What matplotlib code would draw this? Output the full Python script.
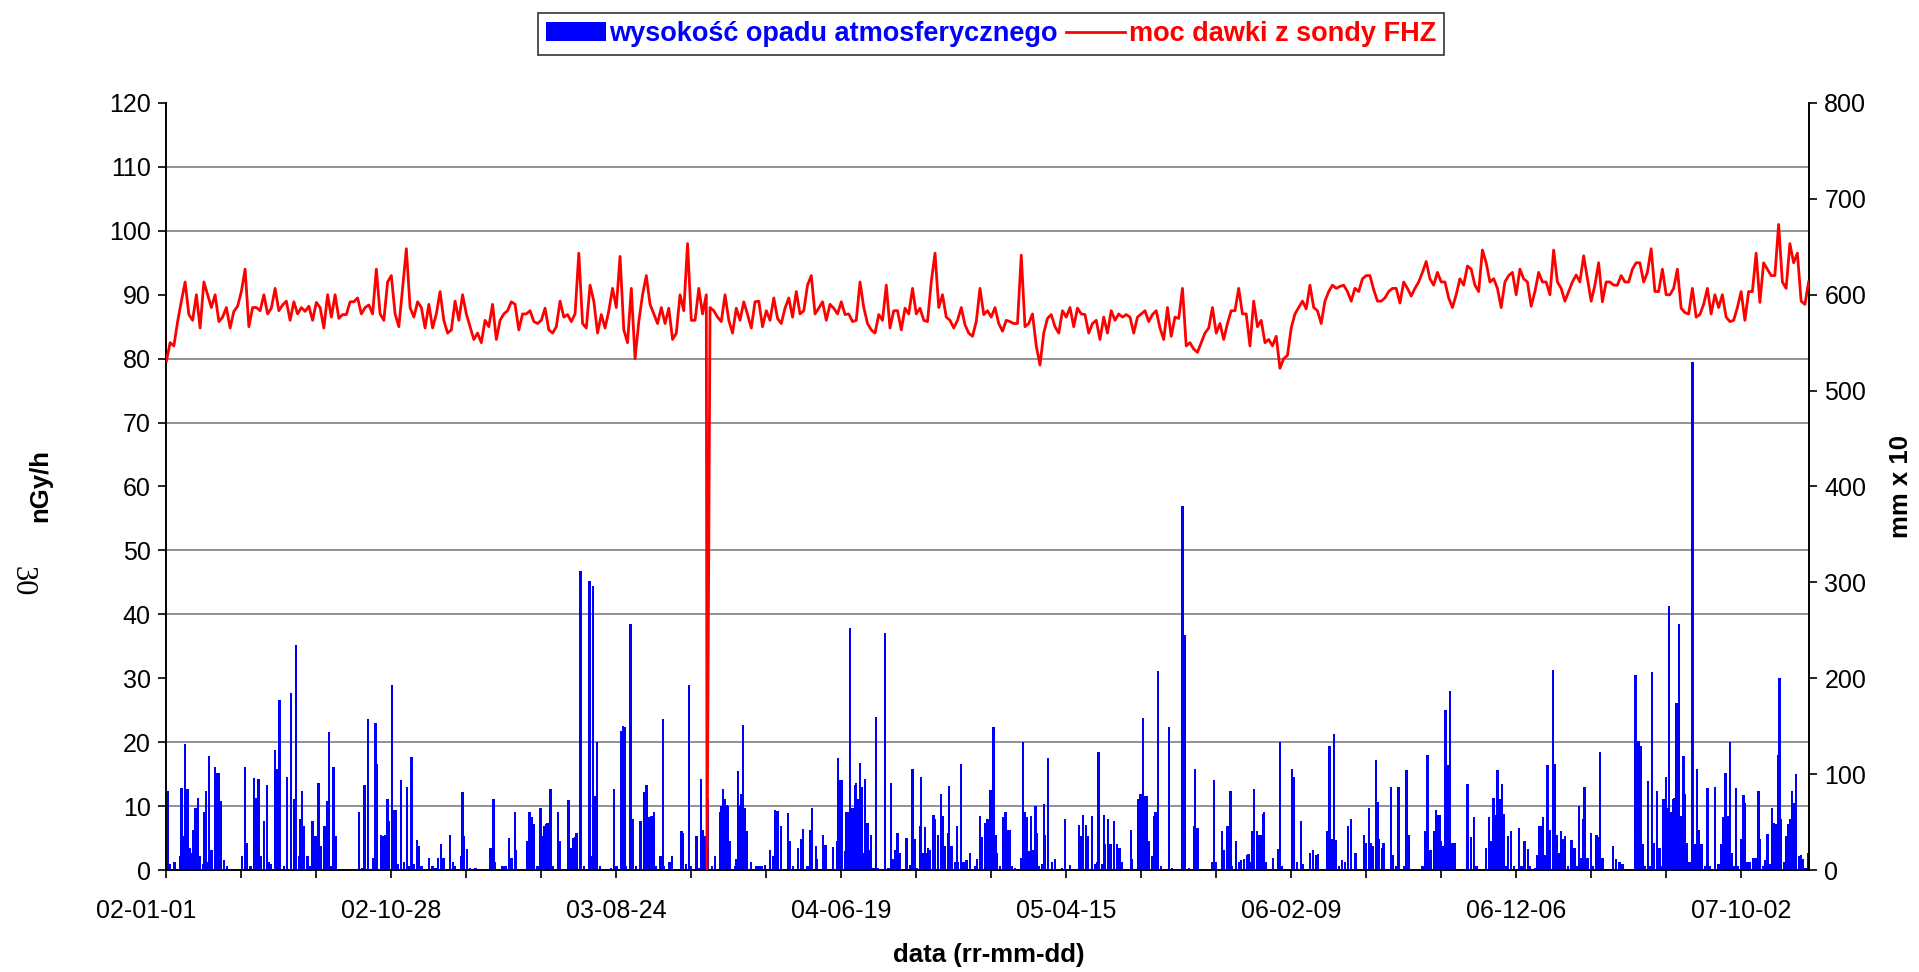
import numpy as np
import matplotlib
matplotlib.use("Agg")
import matplotlib.pyplot as plt
import matplotlib.transforms as mtransforms
from matplotlib.patches import Patch
from matplotlib.lines import Line2D
from matplotlib.ticker import FixedLocator, MultipleLocator

plt.rcParams['font.family'] = ['Liberation Sans', 'DejaVu Sans']

# ---------------- data ----------------
# dose rate (nGy/h) read every 5 days from 2002-01-01 (day 0) to day 2190
dose_step_days = 5
dose_part1 = [79.6, 82.5, 82.0, 85.8, 89.0, 92.0, 86.9, 86.0, 90.0, 84.8,
              92.0, 90.0, 88.0, 90.0, 85.8, 86.5, 88.0, 84.8, 87.4, 88.2,
              90.5, 94.0, 85.0, 88.0, 88.0, 87.5, 90.0, 87.0, 87.9, 91.0,
              87.5, 88.4, 89.0, 86.0, 88.9, 87.0, 88.0, 87.4, 88.2, 86.0,
              88.8, 88.0, 84.8, 90.0, 86.5, 90.0, 86.3, 86.9, 86.9, 88.9,
              88.9, 89.5, 87.0, 88.0, 88.4, 87.0, 94.0, 87.0, 86.0, 92.0,
              93.0, 87.0, 85.0, 91.0, 97.2, 88.0, 86.5, 88.9, 88.0, 84.8,
              88.5, 84.8, 87.0, 90.5]
dose_part2 = [86.0, 84.0, 84.5, 89.0, 86.0, 90.0, 87.0, 85.0, 83.0, 84.0,
              82.5, 86.0, 85.0, 88.5, 83.0, 86.0, 87.0, 87.5, 88.9, 88.5,
              84.5, 87.0, 87.0, 87.5, 85.8, 85.5, 86.0, 87.9, 84.5, 84.0,
              85.0, 89.0, 86.5, 86.9, 85.8, 87.0, 96.5, 85.5, 84.8, 91.5,
              89.0, 84.0, 86.9, 84.8, 87.5, 91.0, 88.0, 96.0, 84.5, 82.5,
              91.0, 80.0, 85.8, 90.0, 93.0, 88.5, 87.0, 85.5, 88.0, 85.5,
              87.9, 83.0, 84.0, 90.0, 87.5, 98.0, 86.0, 86.0, 91.0, 87.0,
              90.0, 88.0, 87.5, 86.5]
dose_part3 = [85.8, 90.0, 86.0, 84.0, 87.9, 86.0, 88.9, 86.9, 84.8, 88.9,
              89.0, 85.0, 87.5, 86.0, 89.5, 86.3, 85.5, 87.9, 89.5, 86.5,
              90.5, 87.0, 87.5, 91.5, 93.0, 87.0, 87.9, 88.9, 86.0, 88.5,
              87.9, 87.0, 88.9, 86.9, 87.0, 85.8, 86.0, 92.0, 88.0, 85.5,
              84.5, 84.0, 86.9, 86.0, 91.5, 84.8, 87.5, 87.5, 84.5, 87.9,
              87.0, 91.0, 87.0, 87.9, 86.0, 85.8, 92.0, 96.5, 88.0, 90.0,
              86.5, 86.0, 84.8, 86.0, 88.0, 85.3, 84.0, 83.5, 85.8, 91.0,
              86.9, 87.5, 86.5, 88.0, 85.5]
dose_part4 = [84.3, 86.0, 85.8, 85.5, 85.5, 96.2, 85.0, 85.5, 87.0, 82.0,
              79.0, 84.0, 86.3, 86.9, 85.0, 84.0, 87.5, 86.5, 88.0, 85.0,
              87.9, 87.0, 86.9, 84.0, 85.5, 86.0, 83.0, 86.5, 84.0, 87.5,
              86.0, 87.0, 86.5, 86.9, 86.5, 84.0, 86.5, 87.0, 87.5, 85.8,
              86.9, 87.5, 84.8, 83.0, 88.0, 83.5, 86.5, 86.3, 91.0, 82.0,
              82.5, 81.5, 81.0, 82.5, 84.0, 84.8, 88.0, 84.0, 85.5, 83.0,
              85.5, 87.5, 87.5, 91.0, 87.0, 87.0, 82.0, 89.0, 85.0, 86.0,
              82.5, 83.0, 82.0, 83.5, 78.5]
dose_part5 = [80.0, 80.5, 84.8, 87.0, 88.0, 89.0, 87.8, 91.5, 88.0, 87.5,
              85.5, 89.0, 90.5, 91.5, 91.0, 91.3, 91.5, 90.5, 89.0, 91.0,
              90.5, 92.5, 93.0, 93.0, 90.8, 89.0, 89.0, 89.5, 90.5, 91.0,
              91.0, 88.7, 92.0, 91.0, 89.8, 91.0, 92.0, 93.5, 95.2, 92.5,
              91.5, 93.5, 92.0, 92.0, 89.5, 88.0, 90.0, 92.5, 91.5, 94.5,
              94.0, 91.5, 90.5, 97.0, 95.0, 92.0, 92.5, 91.0, 88.0, 92.0,
              93.0, 93.5, 90.0, 94.0, 92.5, 92.0, 88.2, 90.5, 93.5, 92.0,
              92.0, 90.0, 97.0, 92.0, 91.0]
dose_part6 = [89.0, 90.5, 92.0, 93.1, 92.0, 96.1, 92.5, 89.0, 91.5, 95.0,
              88.9, 92.0, 92.0, 91.5, 91.5, 93.0, 92.0, 92.0, 94.0, 95.0,
              95.0, 92.0, 93.5, 97.2, 90.5, 90.5, 94.0, 90.0, 90.0, 91.0,
              94.0, 87.9, 87.2, 87.0, 91.0, 86.5, 86.9, 88.5, 91.0, 87.0,
              90.0, 88.0, 90.0, 86.5, 85.8, 86.0, 88.0, 90.5, 86.0, 90.5,
              90.5, 96.5, 88.8, 95.0, 94.0, 93.0, 93.0, 101.0, 92.0, 91.0,
              98.0, 95.0, 96.5, 89.0, 88.5, 92.0]
# single-day probe dropout
dropout_days = [721]
dropout_vals = [0.0]

# precipitation (mm x 10), day index from 2002-01-01
rain_day_1 = [2, 5, 11, 18, 20, 22, 25, 28, 31, 34, 36, 39, 42, 44, 49, 51, 53, 55, 57, 60,
              65, 68, 70, 72, 77, 81, 101, 105, 107, 112, 117, 119, 121, 123, 126, 130, 134,
              137, 139, 145, 147, 151, 157, 161, 166, 170, 173, 177, 179, 181, 183, 188, 192,
              195, 199, 201, 203, 206, 211, 215, 217, 220, 223, 226, 257, 261, 264, 269, 276,
              279, 281, 286, 289, 292, 295, 297, 301, 304, 306, 308, 313, 317, 321, 324, 327,
              330, 334, 337, 340, 350, 355, 359, 362]
rain_val_1 = [82, 6, 8, 15, 86, 35, 131, 85, 23, 18, 42, 65, 75, 15, 6, 60, 82, 8, 119, 21,
              107, 101, 101, 72, 10, 4, 15, 107, 28, 4, 96, 75, 55, 95, 15, 51, 89,
              8, 6, 125, 105, 177, 4, 97, 185, 74, 235, 15, 53, 82, 46, 15, 4,
              51, 35, 27, 91, 25, 46, 72, 144, 4, 107, 35, 60, 2, 89, 158, 13,
              153, 111, 36, 35, 37, 74, 51, 193, 63, 63, 6, 94, 8, 87, 4, 118,
              6, 31, 25, 4, 13, 4, 2, 13]
rain_day_2 = [366, 368, 370, 378, 382, 384, 393, 395, 397, 401, 405, 412, 426, 432, 434, 436,
              438, 448, 452, 457, 460, 465, 466, 481, 484, 487, 490, 495, 499, 501, 504, 506,
              508, 512, 515, 522, 525, 530, 536, 539, 541, 543, 545, 547, 552, 557, 564, 567,
              569, 572, 574, 578, 593, 597, 600, 606, 609, 611, 613, 619, 622, 626, 632, 637,
              640, 643, 647, 650, 652, 659, 662, 664, 671, 674, 687, 689, 693, 697, 700, 707,
              711, 713, 716, 719, 722, 728, 732, 738]
rain_val_2 = [27, 13, 13, 36, 8, 4, 15, 81, 35, 22, 2, 2, 1, 23, 8, 74,
              8, 4, 4, 33, 13, 60, 21, 30, 60, 55, 48, 4, 65, 35, 46, 48,
              49, 84, 4, 60, 30, 1, 73, 23, 20, 33, 34, 39, 312, 4, 301, 15,
              296, 77, 133, 4, 2, 85, 4, 145, 150, 149, 4, 257, 53, 4, 51, 81,
              89, 55, 56, 60, 4, 15, 157, 4, 8, 15, 41, 39, 6, 193, 4, 35,
              2, 95, 42, 35, 74, 4, 15, 61]
rain_day_3 = [740, 742, 745, 747, 749, 751, 758, 760, 762, 765, 767, 769, 771, 774, 780, 787,
              791, 794, 798, 805, 809, 812, 815, 820, 829, 831, 836, 842, 846, 849, 855, 859,
              861, 866, 868, 876, 879, 889, 894, 896, 898, 901, 905, 907, 909, 912, 914, 916,
              918, 920, 923, 925, 927, 929, 932, 935, 937, 940, 943, 946, 949, 958, 963, 966,
              969, 972, 975, 978, 987, 992, 995, 998, 1001, 1005, 1006, 1009, 1012, 1014, 1016,
              1018, 1023, 1025, 1029, 1033, 1035, 1038, 1042, 1044, 1047, 1052, 1054, 1056,
              1060, 1063, 1067, 1072, 1078, 1081, 1085, 1087, 1092, 1095, 1099, 1101, 1103,
              1106, 1108, 1112]
rain_val_3 = [67, 84, 74, 68, 67, 30, 4, 11, 103, 68, 79, 151, 65, 41, 8, 4,
              4, 4, 5, 21, 15, 63, 62, 46, 59, 30, 4, 23, 32, 43, 4, 42,
              65, 25, 11, 37, 26, 24, 30, 117, 94, 94, 20, 61, 61, 252, 65, 65,
              89, 91, 74, 112, 87, 18, 95, 49, 21, 37, 2, 160, 2, 247, 2, 91,
              11, 21, 39, 18, 33, 5, 105, 32, 2, 46, 97, 18, 45, 18, 23,
              21, 57, 53, 37, 79, 56, 25, 39, 88, 25, 8, 46, 8,
              111, 8, 10, 18, 4, 11, 56, 34, 49, 53, 83, 83, 149,
              37, 18, 4]
rain_day_4 = [1116, 1119, 1121, 1123, 1125, 1128, 1132, 1140, 1142, 1145, 1148, 1150, 1153,
              1156, 1159, 1161, 1164, 1168, 1170, 1172, 1176, 1181, 1185, 1194, 1198, 1205,
              1217, 1220, 1222, 1226, 1229, 1234, 1239, 1241, 1243, 1248, 1250, 1252, 1256,
              1259, 1264, 1268, 1270, 1272, 1274, 1286, 1288, 1296, 1299, 1302, 1303, 1307,
              1310, 1314, 1317, 1319, 1322, 1326, 1337, 1341, 1355, 1358, 1364, 1370, 1372,
              1375, 1395, 1397, 1399, 1408, 1410, 1415, 1417, 1419, 1421, 1426, 1430, 1433,
              1437, 1441, 1443, 1446, 1448, 1450, 1454, 1457, 1459, 1462, 1464, 1466, 1476,
              1482, 1485, 1488]
rain_val_4 = [55, 60, 42, 42, 42, 4, 2, 13, 133, 60, 55, 20, 56,
              21, 67, 39, 4, 6, 69, 37, 117, 8, 11, 2, 53, 5,
              47, 35, 57, 47, 35, 56, 6, 8, 123, 6, 57, 27, 53,
              27, 51, 27, 23, 23, 8, 42, 11, 74, 79, 159, 77, 77,
              30, 15, 56, 61, 208, 4, 149, 2, 380, 245, 2, 46, 105,
              44, 8, 94, 8, 41, 21, 46, 46, 82, 4, 30, 8, 10,
              11, 16, 17, 8, 41, 85, 41, 37, 36, 58, 60, 8, 13,
              22, 134, 4]
rain_day_5 = [1501, 1504, 1508, 1513, 1515, 1525, 1529, 1533, 1536, 1548, 1551, 1554, 1557,
              1560, 1564, 1568, 1572, 1576, 1580, 1586, 1597, 1600, 1604, 1606, 1609, 1613,
              1615, 1617, 1621, 1623, 1633, 1636, 1640, 1643, 1651, 1654, 1657, 1675, 1679,
              1682, 1686, 1691, 1693, 1695, 1698, 1700, 1703, 1706, 1709, 1712, 1715, 1718,
              1735, 1740, 1744, 1747, 1760, 1764, 1767, 1770, 1772, 1775, 1778, 1781, 1784,
              1787, 1789, 1793, 1797, 1804, 1807, 1811, 1816, 1818, 1825, 1828, 1831, 1834,
              1836, 1838, 1842, 1845, 1849, 1851, 1854, 1857, 1860]
rain_val_5 = [105, 97, 8, 51, 6, 18, 21, 16, 17, 41, 129, 32, 142,
              31, 4, 10, 8, 46, 53, 18, 36, 28, 65, 28, 25, 115,
              71, 32, 23, 28, 87, 16, 4, 87, 4, 104, 36, 4, 41,
              120, 21, 41, 63, 57, 57, 30, 25, 167, 109, 187, 28, 28,
              90, 34, 55, 4, 23, 55, 30, 75, 57, 104, 74, 90, 58,
              4, 35, 41, 4, 44, 4, 30, 22, 4, 2, 16, 46, 46,
              55, 16, 110, 42, 209, 111, 37, 18, 41]
rain_day_6 = [1862, 1865, 1869, 1874, 1878, 1881, 1884, 1887, 1889, 1891, 1893, 1896, 1900,
              1902, 1907, 1909, 1912, 1915, 1929, 1933, 1938, 1942, 1959, 1963, 1966, 1969,
              1971, 1976, 1979, 1981, 1984, 1988, 1991, 1994, 1996, 1998, 2000, 2001, 2004,
              2007, 2009, 2011, 2014, 2016, 2017, 2020, 2023, 2025, 2027, 2031, 2035, 2038,
              2041, 2044, 2047, 2052, 2055, 2058, 2065, 2070, 2074, 2076, 2079, 2082, 2085,
              2087, 2090, 2093, 2096, 2100, 2103, 2105, 2107, 2111, 2116, 2119, 2123, 2125,
              2130, 2132, 2135, 2139, 2141, 2144, 2147, 2149, 2151, 2153, 2157, 2160, 2163,
              2166, 2168, 2171, 2173, 2177, 2180, 2182, 2186, 2189]
rain_val_6 = [32, 35, 4, 31, 23, 4, 67, 13, 53, 87, 13, 13, 39,
              4, 37, 34, 123, 13, 25, 11, 8, 6, 203, 135, 129, 27,
              4, 93, 4, 207, 28, 82, 23, 4, 74, 74, 97, 65, 275,
              60, 74, 75, 174, 60, 257, 56, 119, 79, 28, 8, 530, 27,
              105, 42, 27, 4, 86, 4, 87, 6, 27, 55, 101, 56, 133,
              18, 4, 86, 4, 32, 78, 70, 8, 8, 13, 13, 82, 32,
              4, 10, 38, 6, 65, 49, 48, 120, 200, 53, 8, 35, 48,
              53, 82, 70, 100, 15, 16, 11, 2, 18]

n_days = 2191
tick_days = [0, 300, 600, 900, 1200, 1500, 1800, 2100]
tick_labels = ['02-01-01', '02-10-28', '03-08-24', '04-06-19',
               '05-04-15', '06-02-09', '06-12-06', '07-10-02']

series_rain = 'wysokość opadu atmosferycznego'
series_dose = 'moc dawki z sondy FHZ'

# ---------------- assemble ----------------
dose_vals = np.array(dose_part1 + dose_part2 + dose_part3 + dose_part4 + dose_part5 + dose_part6)
dose_days = np.arange(len(dose_vals)) * dose_step_days
dose_days = np.concatenate([dose_days, dropout_days])
dose_vals = np.concatenate([dose_vals, dropout_vals])
order = np.argsort(dose_days, kind='stable')
dose_days, dose_vals = dose_days[order], dose_vals[order]

rain_day = np.array(rain_day_1 + rain_day_2 + rain_day_3 + rain_day_4 + rain_day_5 + rain_day_6)
rain_val = np.array(rain_val_1 + rain_val_2 + rain_val_3 + rain_val_4 + rain_val_5 + rain_val_6)

# ---------------- figure ----------------
W, H = 1919, 972
fig = plt.figure(figsize=(W / 100, H / 100), dpi=100)
fig.patch.set_facecolor('white')
ax = fig.add_axes([166 / W, 1 - 870 / H, (1809 - 166) / W, (870 - 103) / H])
ax2 = ax.twinx()

grid_c = '#7f7f7f'
# bars on the secondary (right) axis
ax2.bar(rain_day + 0.5, rain_val, width=3.2, color='#0000FF', linewidth=0, zorder=2)
ax2.set_ylim(0, 800)
ax2.yaxis.set_major_locator(MultipleLocator(100))
ax2.yaxis.set_minor_locator(FixedLocator(np.linspace(0, 800, 13)))
ax2.grid(which='minor', axis='y', color=grid_c, linewidth=1.2, zorder=0)
ax2.set_axisbelow(True)

# line on the primary (left) axis, drawn above the bars
ax.plot(dose_days + 0.5, dose_vals, color='#FF0000', linewidth=2.0, zorder=3)
ax.set_ylim(0, 120)
ax.yaxis.set_major_locator(MultipleLocator(10))
ax.set_xlim(0, n_days)
ax.set_xticks(tick_days)
ax.set_xticklabels(tick_labels)
ax.xaxis.set_minor_locator(MultipleLocator(100))
ax.set_zorder(ax2.get_zorder() + 1)
ax.patch.set_visible(False)

fs_tick = 18
fs_bold = 18.5
for a in (ax, ax2):
    a.spines['top'].set_visible(False)
    for s in ('left', 'right', 'bottom'):
        a.spines[s].set_color('black')
        a.spines[s].set_linewidth(1.2)
ax.tick_params(axis='y', which='major', direction='out', length=6, width=1.2,
               labelsize=fs_tick, pad=5, colors='black')
ax.tick_params(axis='x', which='both', direction='out', length=6, width=1.2,
               labelsize=fs_tick, pad=15, colors='black')
ax2.tick_params(axis='y', which='major', direction='out', length=6, width=1.2,
                labelsize=fs_tick, pad=5)
ax2.tick_params(axis='y', which='minor', length=0)

# the first date label sits a little to the left of its tick, as in the original
first_lbl = ax.get_xticklabels()[0]
first_lbl.set_transform(first_lbl.get_transform() +
                        mtransforms.ScaledTranslation(-20 / 100, 0, fig.dpi_scale_trans))

# axis titles
fig.text(40 / W, 1 - 486 / H, 'nGy/h', rotation=90, ha='center', va='center',
         fontsize=fs_bold, fontweight='bold')
fig.text(1901 / W, 1 - 486 / H, 'mm x 10', rotation=90, ha='center', va='center',
         fontsize=fs_bold, fontweight='bold')
fig.text(989 / W, 1 - 955 / H, 'data (rr-mm-dd)', ha='center', va='center',
         fontsize=fs_bold, fontweight='bold')
fig.text(22 / W, 1 - 581 / H, '30', rotation=270, ha='center', va='center',
         fontsize=22, family=['Liberation Serif', 'DejaVu Serif'])

# legend
fs_leg = 19.5
handles = [Patch(facecolor='#0000FF', edgecolor='none'),
           Line2D([0], [0], color='#FF0000', linewidth=2.0)]
leg = fig.legend(handles, [series_rain, series_dose], loc='center',
                 bbox_to_anchor=(991 / W, 1 - 34 / H), ncol=2, frameon=True,
                 fancybox=False, edgecolor='black', fontsize=fs_leg,
                 handlelength=2.2, handleheight=0.7, handletextpad=0.12,
                 columnspacing=0.3, borderpad=0.3, borderaxespad=0)
leg.get_frame().set_linewidth(1.2)
for t, c in zip(leg.get_texts(), ['#0000FF', '#FF0000']):
    t.set_color(c)
    t.set_fontweight('bold')

fig.savefig('out.png', dpi=100, facecolor='white')
